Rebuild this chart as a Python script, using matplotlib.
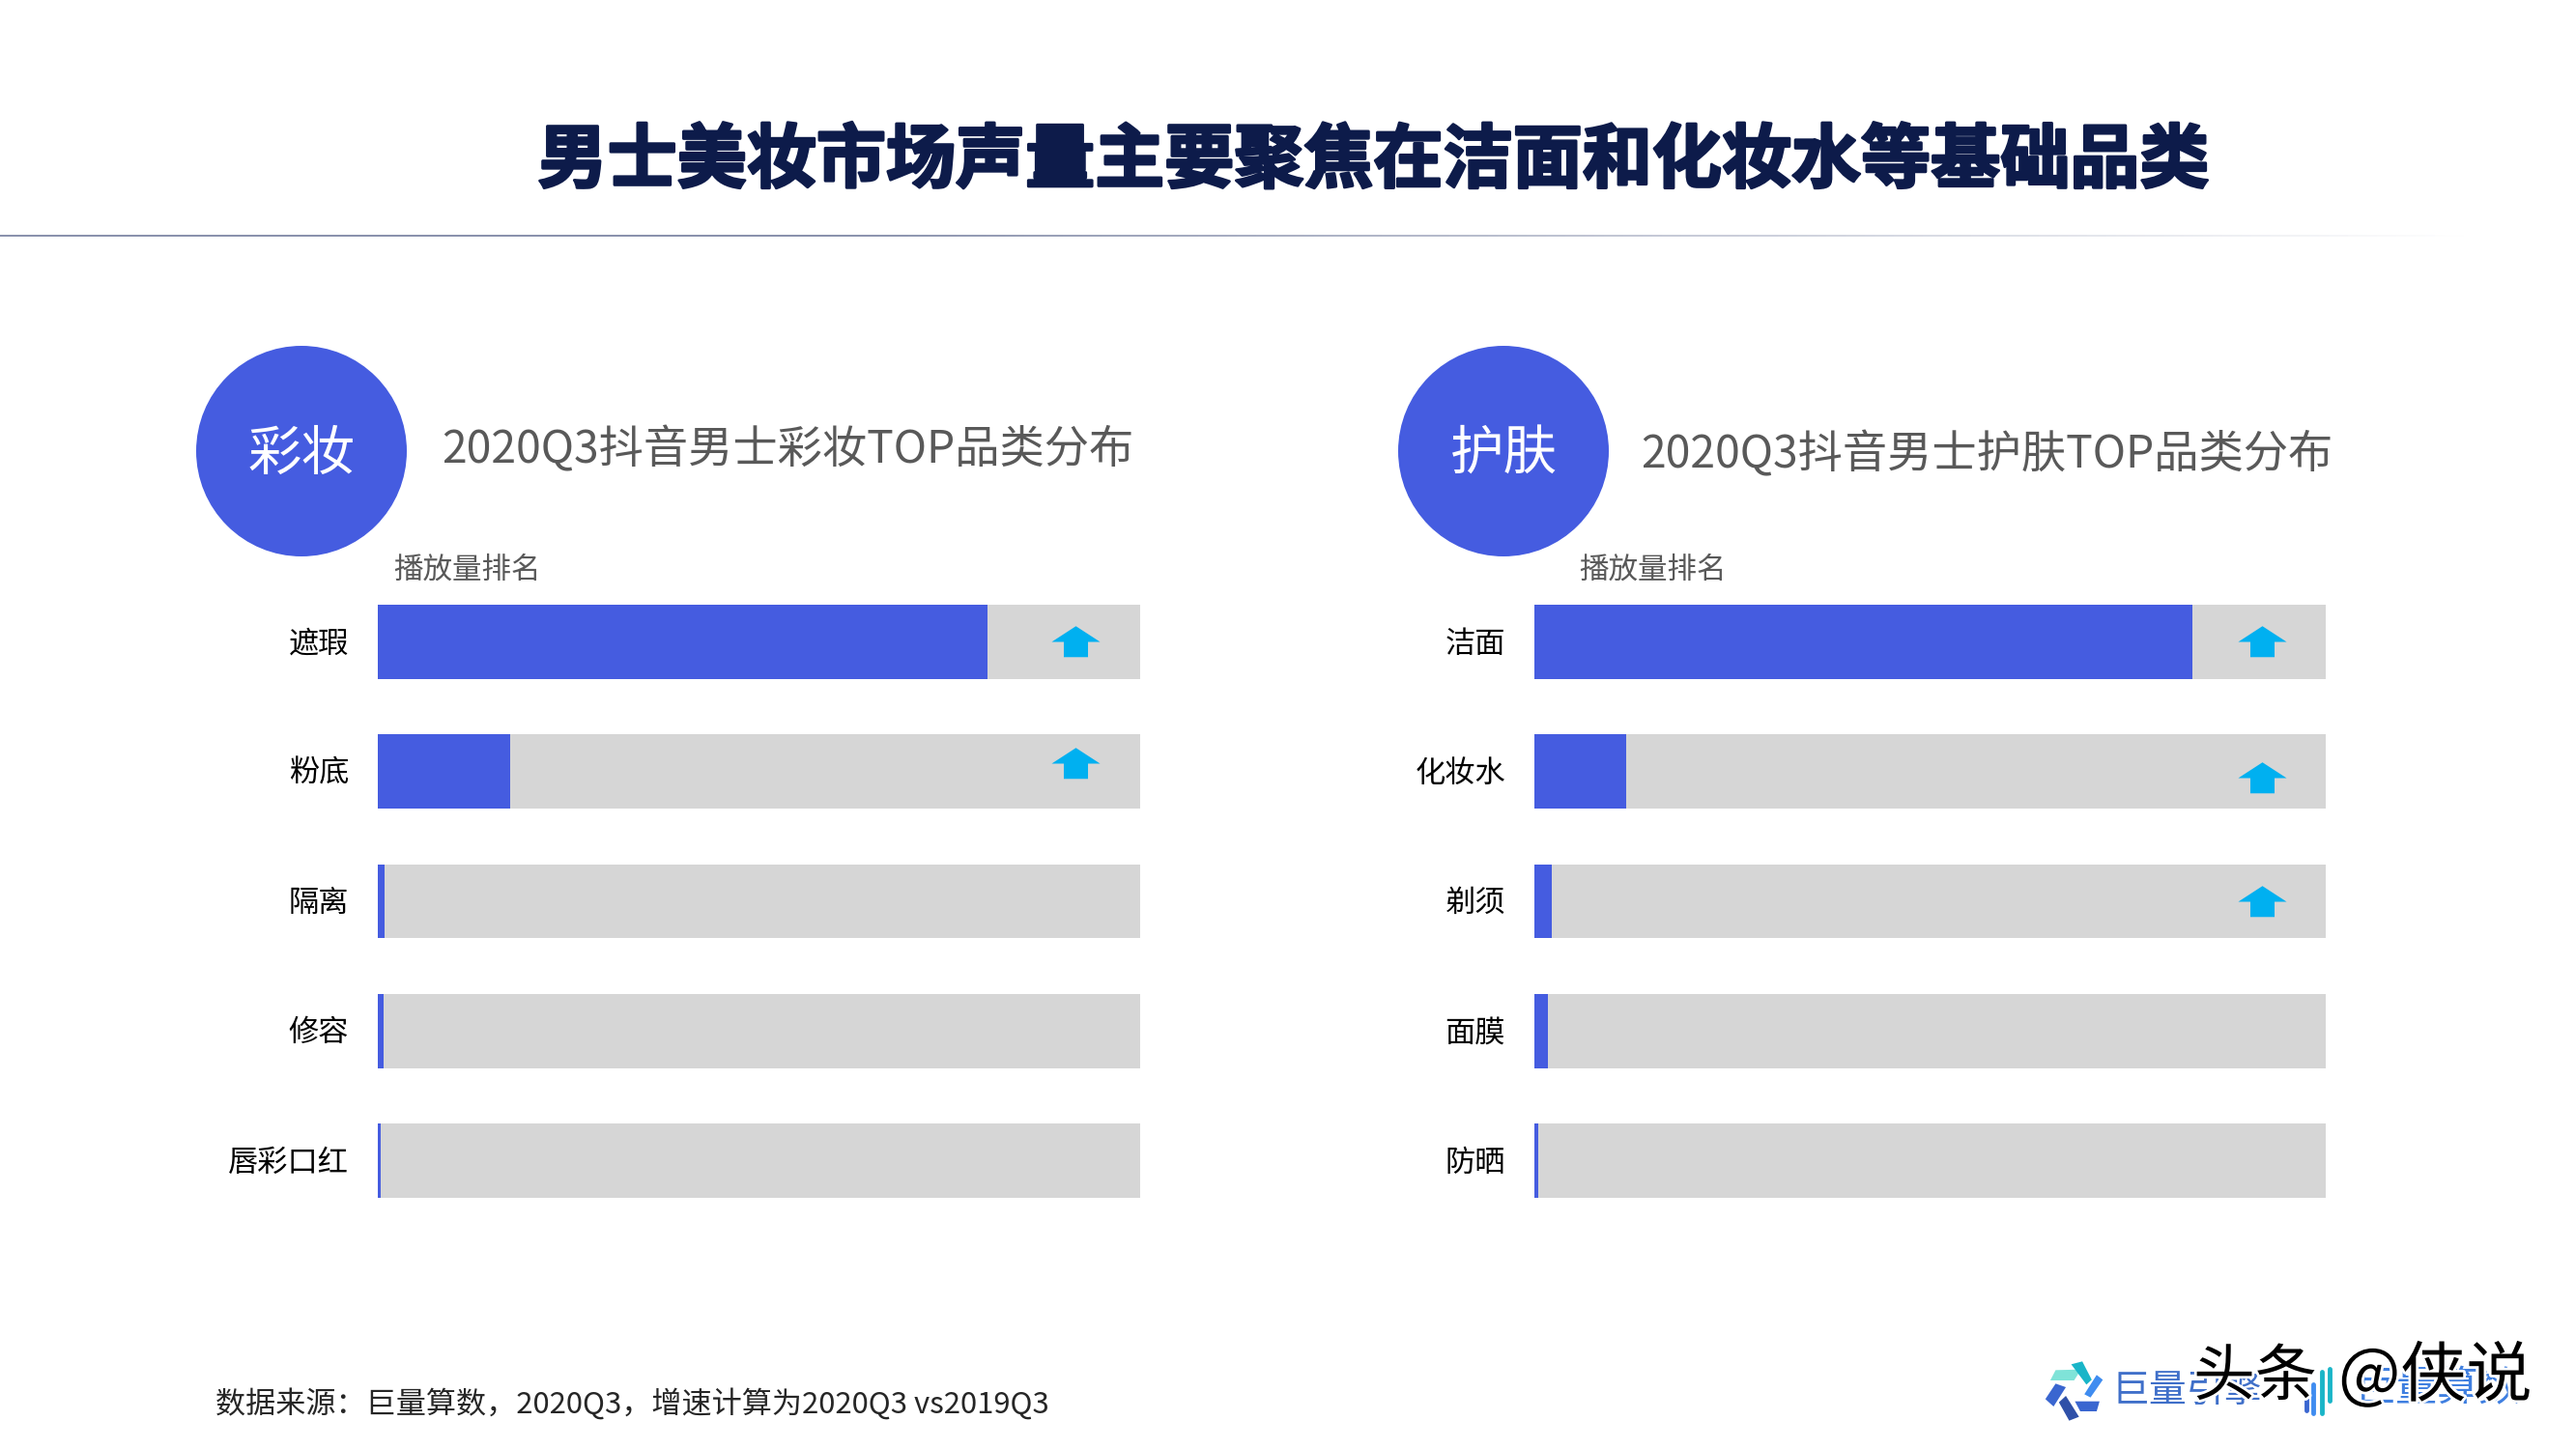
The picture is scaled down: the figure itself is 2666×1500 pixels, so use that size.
import matplotlib
matplotlib.use("Agg")
import matplotlib.pyplot as plt
import matplotlib.patheffects as pe
from matplotlib.patches import Circle, Polygon
from matplotlib.path import Path
from matplotlib.transforms import ScaledTranslation
import numpy as np

plt.rcParams['font.family'] = ['Noto Sans CJK SC', 'DejaVu Sans']

BLUE = "#455ce0"
GREY = "#d6d6d6"
CYAN = "#00b0f0"
TEXT = "#595959"

title = "男士美妆市场声量主要聚焦在洁面和化妆水等基础品类"
source = "数据来源：巨量算数，2020Q3，增速计算为2020Q3 vs2019Q3"
rank_label = "播放量排名"

# share of the grey track
makeup_cats = ["遮瑕", "粉底", "隔离", "修容", "唇彩口红"]
makeup_vals = [80.0, 17.4, 0.9, 0.7, 0.4]
makeup_arrows = [0, -0.063, None, None, None]   # arrow offset from bar centre, None = no arrow
makeup_arrow_x = 91.5

skin_cats = ["洁面", "化妆水", "剃须", "面膜", "防晒"]
skin_vals = [83.2, 11.6, 2.2, 1.7, 0.5]
skin_arrows = [0, 0.05, 0, None, None]
skin_arrow_x = 91.9

# up arrow marker
arrow_marker = Path([(-1, 0), (0, 0.65), (1, 0), (0.5, 0), (0.5, -0.63), (-0.5, -0.63), (-0.5, 0), (-1, 0)], closed=True)

W, H = 2666, 1500
fig = plt.figure(figsize=(W / 100, H / 100), dpi=100, facecolor="white")

bg = fig.add_axes([0, 0, 1, 1])
bg.set_xlim(0, W)
bg.set_ylim(H, 0)
bg.axis("off")


def bar_panel(left, right, cats, vals, arrows, arrow_x):
    ax = fig.add_axes([left / W, 1 - 1240 / H, (right - left) / W, 614 / H])
    y = np.arange(len(cats))
    ax.barh(y, [100] * len(cats), height=0.573, color=GREY)
    ax.barh(y, vals, height=0.573, color=BLUE)
    for i, off in enumerate(arrows):
        if off is not None:
            ax.scatter([arrow_x], [i + off], marker=arrow_marker, s=1300, color=CYAN, linewidths=0, zorder=3)
    ax.set_xlim(0, 100)
    ax.set_ylim(4.2865, -0.2865)
    ax.set_yticks(y, cats)
    ax.set_xticks([])
    ax.tick_params(axis="y", length=0, pad=21.5, labelsize=22.5, labelcolor="black")
    # labels sit a little above the bar centre
    for lab in ax.get_yticklabels():
        lab.set_transform(lab.get_transform() + ScaledTranslation(0, 1 / 72, fig.dpi_scale_trans))
    for s in ax.spines.values():
        s.set_visible(False)
    ax.patch.set_alpha(0)
    return ax


bar_panel(391, 1180, makeup_cats, makeup_vals, makeup_arrows, makeup_arrow_x)
bar_panel(1588, 2407, skin_cats, skin_vals, skin_arrows, skin_arrow_x)

# header
bg.text(1422, 167, title, fontsize=51.9, fontweight="bold", color="#0d1b4a", ha="center", va="center",
        path_effects=[pe.withStroke(linewidth=2, foreground="#0d1b4a")])
fade = np.zeros((1, 256, 4))
fade[..., :3] = matplotlib.colors.to_rgb("#8a92ad")
fade[..., 3] = np.clip(np.linspace(1.5, 0, 256), 0, 1)
bg.imshow(fade, extent=(0, 2560, 245, 243), aspect="auto", zorder=1)
bg.set_xlim(0, W)
bg.set_ylim(H, 0)

# section heads
for cx, name, sub, sx, sy, rx in [
    (312, "彩妆", "2020Q3抖音男士彩妆TOP品类分布", 457, 466, 407),
    (1556, "护肤", "2020Q3抖音男士护肤TOP品类分布", 1698, 471, 1634),
]:
    bg.add_patch(Circle((cx, 467), 109, color=BLUE, lw=0))
    bg.text(cx, 471, name, color="white", fontsize=40, ha="center", va="center")
    bg.text(sx, sy, sub, color=TEXT, fontsize=33.3, ha="left", va="center")
    bg.text(rx, 590, rank_label, color=TEXT, fontsize=22, ha="left", va="center")

bg.text(223, 1453, source, color="#262626", fontsize=22.4, ha="left", va="center")


# logo, zoomed crop coordinates of the footer
def fx(v):
    return 2000 + v / 2.354


def fy(v):
    return 1350 + v / 3


logo_parts = [
    ("#7fe3d8", [(287, 237), (300, 205), (362, 203), (345, 237)]),
    ("#19b5c8", [(338, 187), (365, 178), (388, 235), (375, 250)]),
    ("#3f8cf0", [(400, 220), (415, 235), (385, 290), (370, 280)]),
    ("#3a66d0", [(347, 302), (407, 302), (400, 333), (360, 333)]),
    ("#2f50a8", [(308, 305), (325, 285), (357, 350), (333, 362)]),
    ("#3a66d0", [(275, 295), (300, 247), (325, 258), (295, 318)]),
]
for c, pts in logo_parts:
    bg.add_patch(Polygon([(fx(a), fy(b)) for a, b in pts], color=c, lw=0))

for v, c, y0, y1 in [(910, "#3a66d0", 290, 330), (928, "#3f8cf0", 250, 340), (948, "#19b5c8", 210, 340), (968, "#19b5c8", 200, 300)]:
    bg.plot([fx(v), fx(v)], [fy(y0), fy(y1)], color=c, lw=3.5, solid_capstyle="round")

bg.text(2185, 1440, "巨量引擎", color="#3f6fc9", fontsize=28, ha="left", va="center")
bg.text(2437, 1438, "巨量算数", color="#3f7fe0", fontsize=31, ha="left", va="center")

# watermark
bg.text(2270, 1426, "头条", color="black", fontsize=46, ha="left", va="center",
        path_effects=[pe.withStroke(linewidth=4, foreground="white")])
bg.text(2420, 1426, "@侠说", color="black", fontsize=49, ha="left", va="center",
        path_effects=[pe.withStroke(linewidth=4, foreground="white")])

fig.savefig("out.png", dpi=100)
